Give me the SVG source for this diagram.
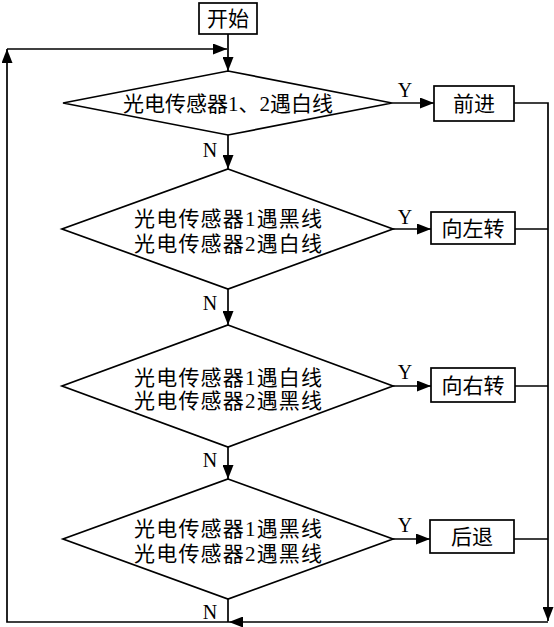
<svg xmlns="http://www.w3.org/2000/svg" width="554" height="627" viewBox="0 0 554 627">
<style>
.shape{fill:#fff;stroke:#000;stroke-width:1.7}
.conn{fill:none;stroke:#000;stroke-width:1.7}
.t{font-family:"Liberation Serif","Noto Sans CJK SC",serif;font-size:21px;fill:#000;text-anchor:middle}
.lbl{font-family:"Liberation Serif",serif;font-size:20px;fill:#000;text-anchor:middle}
</style>
<defs>
<marker id="arr" markerUnits="userSpaceOnUse" markerWidth="14" markerHeight="11" refX="14" refY="5.5" orient="auto">
<path d="M0,0 L14,5.5 L0,11 z" fill="#000"/>
</marker>
</defs>
<rect width="554" height="627" fill="#fff"/>
<g id="connectors">
<path class="conn" d="M228,34 V71" marker-end="url(#arr)"/>
<path class="conn" d="M228,135 V169" marker-end="url(#arr)"/>
<path class="conn" d="M228,289 V325" marker-end="url(#arr)"/>
<path class="conn" d="M228,447 V479" marker-end="url(#arr)"/>
<path class="conn" d="M228,599 V622"/>
<path class="conn" d="M392,103 H434" marker-end="url(#arr)"/>
<path class="conn" d="M393,229 H431" marker-end="url(#arr)"/>
<path class="conn" d="M393,386 H431" marker-end="url(#arr)"/>
<path class="conn" d="M393,539 H430" marker-end="url(#arr)"/>
<path class="conn" d="M514,103 H548 V621" marker-end="url(#arr)"/>
<path class="conn" d="M515,229 H548"/>
<path class="conn" d="M515,386 H548"/>
<path class="conn" d="M514,539 H548"/>
<path class="conn" d="M548,622 H229" marker-end="url(#arr)"/>
<path class="conn" d="M229,622 H7 V49" marker-end="url(#arr)"/>
<path class="conn" d="M7,49 H227" marker-end="url(#arr)"/>
</g>
<g id="start">
<rect class="shape" x="199" y="3" width="58" height="31"/>
<text class="t" x="228" y="25.5">开始</text>
</g>
<g id="d1">
<polygon class="shape" points="228,71 392,103 228,135 63,103"/>
<text class="t" x="228" y="110.5">光电传感器1、2遇白线</text>
</g>
<g id="d2">
<polygon class="shape" points="228,169 393,229 228,289 62,229"/>
<text class="t" x="228" y="225.5" textLength="188" lengthAdjust="spacing">光电传感器1遇黑线</text>
<text class="t" x="228" y="250.5" textLength="188" lengthAdjust="spacing">光电传感器2遇白线</text>
</g>
<g id="d3">
<polygon class="shape" points="228,325 393,386 228,447 62,386"/>
<text class="t" x="228" y="384.5" textLength="188" lengthAdjust="spacing">光电传感器1遇白线</text>
<text class="t" x="228" y="407.5" textLength="188" lengthAdjust="spacing">光电传感器2遇黑线</text>
</g>
<g id="d4">
<polygon class="shape" points="228,479 393,539 228,599 63,539"/>
<text class="t" x="228" y="535.5" textLength="188" lengthAdjust="spacing">光电传感器1遇黑线</text>
<text class="t" x="228" y="560.5" textLength="188" lengthAdjust="spacing">光电传感器2遇黑线</text>
</g>
<g id="forward">
<rect class="shape" x="434" y="86" width="80" height="35"/>
<text class="t" x="474" y="111">前进</text>
</g>
<g id="left">
<rect class="shape" x="431" y="212" width="84" height="32"/>
<text class="t" x="473" y="235.5">向左转</text>
</g>
<g id="right">
<rect class="shape" x="431" y="368" width="84" height="34"/>
<text class="t" x="473" y="392.5">向右转</text>
</g>
<g id="back">
<rect class="shape" x="430" y="520" width="84" height="33"/>
<text class="t" x="472" y="544">后退</text>
</g>
<g id="labels">
<text class="lbl" x="405" y="97">Y</text>
<text class="lbl" x="405" y="224">Y</text>
<text class="lbl" x="405" y="379">Y</text>
<text class="lbl" x="405" y="532">Y</text>
<text class="lbl" x="210" y="157">N</text>
<text class="lbl" x="210" y="310">N</text>
<text class="lbl" x="210" y="467">N</text>
<text class="lbl" x="210" y="619">N</text>
</g>
</svg>
